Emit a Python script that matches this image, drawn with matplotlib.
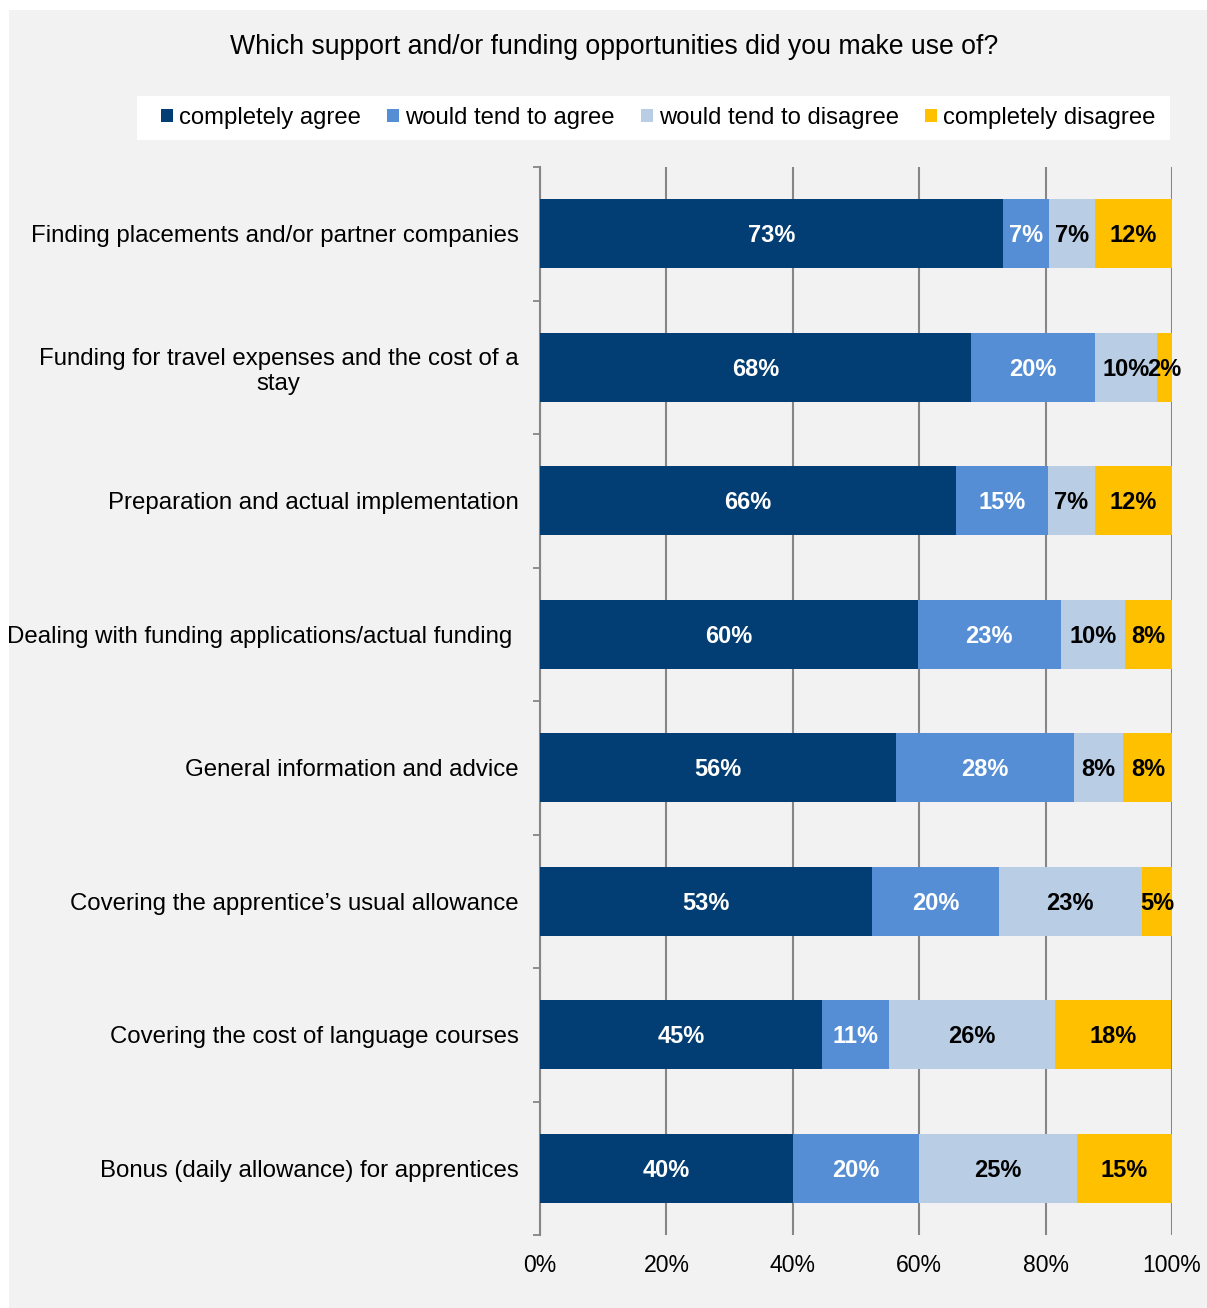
import matplotlib.pyplot as plt
from matplotlib.patches import Rectangle
import numpy as np

plt.rcParams['font.family'] = ['Liberation Sans', 'DejaVu Sans']

categories = [
    "Finding placements and/or partner companies",
    "Funding for travel expenses and the cost of a\nstay",
    "Preparation and actual implementation",
    "Dealing with funding applications/actual funding ",
    "General information and advice",
    "Covering the apprentice\u2019s usual allowance",
    "Covering the cost of language courses",
    "Bonus (daily allowance) for apprentices",
]
series_names = ["completely agree", "would tend to agree",
                "would tend to disagree", "completely disagree"]
completely_agree = [73.2, 68.2, 65.8, 59.8, 56.3, 52.6, 44.6, 40.0]
tend_agree = [7.3, 19.6, 14.6, 22.6, 28.2, 20.0, 10.6, 20.0]
tend_disagree = [7.3, 9.8, 7.4, 10.1, 7.8, 22.6, 26.3, 25.0]
completely_disagree = [12.2, 2.4, 12.2, 7.6, 7.8, 4.8, 18.4, 15.0]
xticks = [0, 20, 40, 60, 80, 100]

colors = ["#023e73", "#558ed5", "#b9cde5", "#ffc000"]
text_colors = ["white", "white", "black", "black"]

W, H = 1207, 1308
fig = plt.figure(figsize=(W / 100, H / 100), dpi=100, facecolor="white")
# grey panel behind everything
fig.patches.append(Rectangle((9 / W, 0), 1 - 9 / W, 1 - 10 / H,
                             transform=fig.transFigure, facecolor="#f2f2f2",
                             edgecolor="none", zorder=-10))
# white strip behind the legend
fig.patches.append(Rectangle((137 / W, 1 - 140 / H), (1170 - 137) / W, 44 / H,
                             transform=fig.transFigure, facecolor="white",
                             edgecolor="none", zorder=-5))

ax = fig.add_axes([540 / W, 1 - 1235 / H, (1172 - 540) / W, (1235 - 167) / H])
ax.set_facecolor("none")

y = np.arange(len(categories))
left = np.zeros(len(categories))
all_series = [completely_agree, tend_agree, tend_disagree, completely_disagree]
for name, vals, col, tcol in zip(series_names, all_series, colors, text_colors):
    vals = np.array(vals)
    bars = ax.barh(y, vals, left=left, height=0.52, color=col, label=name, zorder=3)
    for b, v in zip(bars, vals):
        ax.text(b.get_x() + b.get_width() / 2, b.get_y() + b.get_height() / 2 + 0.015,
                f"{v:.0f}%", ha="center", va="center", color=tcol,
                fontsize=17, fontweight="bold", zorder=4)
    left += vals

ax.set_xlim(0, 100)
ax.set_ylim(len(categories) - 0.5, -0.5)
ax.set_xticks(xticks)
ax.set_xticklabels([f"{t}%" for t in xticks], fontsize=16.6)
ax.tick_params(axis="x", length=0, pad=14)
ax.set_yticks(y)
ax.set_yticklabels(categories, fontsize=17.3, multialignment="center")
ax.set_yticks(np.arange(-0.5, len(categories)), minor=True)
ax.tick_params(axis="y", which="major", length=0, pad=15.5)
ax.tick_params(axis="y", which="minor", length=5, width=1.3, color="#868686")
ax.xaxis.grid(True, color="#868686", linewidth=1.5, zorder=1)
for s in ["top", "right", "bottom"]:
    ax.spines[s].set_visible(False)
ax.spines["left"].set_color("#868686")
ax.spines["left"].set_linewidth(1.5)

fig.text(614 / W, 1 - 47 / H, "Which support and/or funding opportunities did you make use of?",
         ha="center", va="center", fontsize=19.2)

leg = fig.legend(loc="center", bbox_to_anchor=(658 / W, 1 - 118 / H), ncol=4,
                 fontsize=17.2, frameon=False, handlelength=0.5,
                 handleheight=0.5, handletextpad=0.25, columnspacing=1.1,
                 borderpad=0.45)

fig.savefig("out.png", dpi=100, facecolor="white")
